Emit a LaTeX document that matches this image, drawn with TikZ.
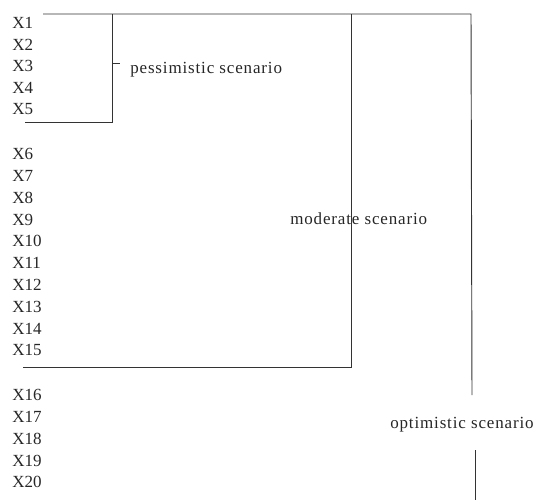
\documentclass[tikz,border=0pt]{standalone}
\usepackage{fontspec}
\setmainfont{Liberation Serif}
\newfontfamily\lblfont[LetterSpace=5]{Liberation Serif}
\tikzset{
  var/.style={anchor=base west,inner sep=0pt,text=black!85},
  scen/.style={anchor=base west,inner sep=0pt,text=black!85,font=\lblfont\fontsize{12.75}{15}\selectfont},
  brk/.style={draw=black!80,line width=0.7pt}
}
\begin{document}
\begin{tikzpicture}[x=0.75pt,y=-0.75pt,font=\fontsize{12.75}{15}\selectfont]
      \useasboundingbox (0,0) rectangle (539,500);
      \path
        (12,28.3) node[var] (1){X1}
        (12,50) node[var] (2){X2}
        (12,71.7) node[var] (3){X3}
        (12,93.3) node[var] (4){X4}
        (12,114.5) node[var] (5){X5}
        (12,159.7) node[var] (6){X6}
        (12,181.5) node[var] (7){X7}
        (12,203.3) node[var] (8){X8}
        (12,225) node[var] (9){X9}
        (12,246.8) node[var] (10){X10}
        (12,268.6) node[var] (11){X11}
        (12,290.4) node[var] (12){X12}
        (12,312.2) node[var] (13){X13}
        (12,334) node[var] (14){X14}
        (12,355.7) node[var] (15){X15}
        (12,400.7) node[var] (16){X16}
        (12,422.5) node[var] (17){X17}
        (12,444.2) node[var] (18){X18}
        (12,466) node[var] (19){X19}
        (12,487.7) node[var] (20){X20};
      \path
        (130,73) node[scen] (pes){pessimistic scenario}
        (290,224) node[scen] (mod){moderate scenario}
        (390,428) node[scen] (opt){optimistic scenario};
      \coordinate (top) at (43,14);
      \coordinate (p0) at (112,14);
      \coordinate (p1) at (112,122);
      \coordinate (p2) at (25,122);
      \coordinate (pt0) at (113,63);
      \coordinate (pt1) at (120,63);
      \coordinate (m0) at (351,14);
      \coordinate (m1) at (351,367);
      \coordinate (m2) at (23,367);
      \coordinate (o0) at (471,14);
      \coordinate (o1) at (472,395);
      \coordinate (o2) at (475,450);
      \coordinate (o3) at (475,500);
      \begin{scope}[brk]
        \draw (top) -- (o0) -- (o1);
        \draw (o2) -- (o3);
        \draw (p0) -- (p1) -- (p2);
        \draw (pt0) -- (pt1);
        \draw (m0) -- (m1) -- (m2);
      \end{scope}
    \end{tikzpicture}
\end{document}
